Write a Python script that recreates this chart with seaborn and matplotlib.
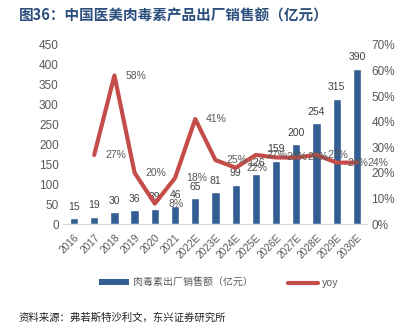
import numpy as np
import pandas as pd
import matplotlib
matplotlib.use("Agg")
import matplotlib.pyplot as plt
import seaborn as sns
from matplotlib.patches import Patch
from matplotlib.lines import Line2D

categories = ['2016', '2017', '2018', '2019', '2020', '2021', '2022E', '2023E',
              '2024E', '2025E', '2026E', '2027E', '2028E', '2029E', '2030E']
sales = [15, 19, 30, 36, 39, 46, 65, 81, 99, 126, 159, 200, 254, 315, 390]
yoy = [np.nan, 27, 58, 20, 8, 18, 41, 25, 22, 27, 26, 26, 27, 24, 24]
left_ticks = [0, 50, 100, 150, 200, 250, 300, 350, 400, 450]
right_ticks = [0, 10, 20, 30, 40, 50, 60, 70]

title = '图36：中国医美肉毒素产品出厂销售额（亿元）'
bar_name = '肉毒素出厂销售额（亿元）'
line_name = 'yoy'
source = '资料来源：弗若斯特沙利文，东兴证券研究所'

sns.set_theme(style='white')
plt.rcParams['font.family'] = ['Liberation Sans', 'Noto Sans CJK SC', 'DejaVu Sans']

BAR_C = '#325E93'
LINE_C = '#C44D4A'
TXT_C = '#595959'

df = pd.DataFrame({'cat': categories, 'sales': sales, 'yoy': yoy, 'pos': range(len(categories))})

fig = plt.figure(figsize=(4.11, 3.34), dpi=100)
ax = fig.add_axes([0.153, 0.329, 0.740, 0.537])
sns.barplot(data=df, x='cat', y='sales', color=BAR_C, width=0.41, ax=ax, saturation=1)
ax.set_ylim(0, 450)
ax.set_xlim(-0.55, 14.5)
ax.set_yticks(left_ticks)
ax.set_yticklabels([str(t) for t in left_ticks], fontsize=8.5, color=TXT_C)
ax.set_xticks(range(len(categories)))
ax.set_xticklabels(categories, rotation=45, ha='right', rotation_mode='anchor',
                   fontsize=7.3, color=TXT_C)
ax.tick_params(axis='y', length=0, pad=3)
ax.tick_params(axis='x', length=0, pad=6)
ax.set_xlabel('')
ax.set_ylabel('')
for s in ['left', 'right', 'top']:
    ax.spines[s].set_visible(False)
ax.spines['bottom'].set_color('#D9D9D9')
ax.spines['bottom'].set_linewidth(0.8)
for i, v in enumerate(sales):
    ax.annotate(str(v), (i, v), xytext=(0, 4.5), textcoords='offset points',
                ha='center', va='bottom', fontsize=7.5, color='#404040')

ax2 = ax.twinx()
sns.lineplot(data=df, x='pos', y='yoy', color=LINE_C, linewidth=3, ax=ax2)
ax2.set_xlim(-0.55, 14.5)
ax2.set_ylim(0, 70)
ax2.set_yticks(right_ticks)
ax2.set_yticklabels([f'{t}%' for t in right_ticks], fontsize=8.5, color=TXT_C)
ax2.tick_params(axis='y', length=0, pad=3)
ax2.set_xlabel('')
ax2.set_ylabel('')
for s in ['left', 'right', 'top', 'bottom']:
    ax2.spines[s].set_visible(False)
for i, v in enumerate(yoy):
    if np.isnan(v):
        continue
    ax2.text(i + 1.05, v, f'{int(v)}%', ha='center', va='center', fontsize=7.5,
             color=TXT_C, clip_on=False)

fig.text(0.045, 0.955, title, fontsize=10.5, fontweight='bold', color='#2B4E7C',
         family=['Noto Sans CJK SC', 'DejaVu Sans'], va='center', ha='left')

handles = [Patch(facecolor=BAR_C, edgecolor='none'),
           Line2D([0], [0], color=LINE_C, lw=3)]
fig.legend(handles, [bar_name, line_name], loc='center', bbox_to_anchor=(0.532, 0.153),
           ncol=2, frameon=False, handlelength=3.0, handleheight=0.55,
           handletextpad=0.4, columnspacing=3.5, labelcolor=TXT_C,
           prop={'family': ['Noto Sans CJK SC', 'DejaVu Sans'], 'size': 7.2})

fig.text(0.045, 0.05, source, fontsize=7.5, color='#222222', style='italic',
         family=['Noto Sans CJK SC', 'DejaVu Sans'], va='center', ha='left')

fig.savefig('out.png', dpi=100)
